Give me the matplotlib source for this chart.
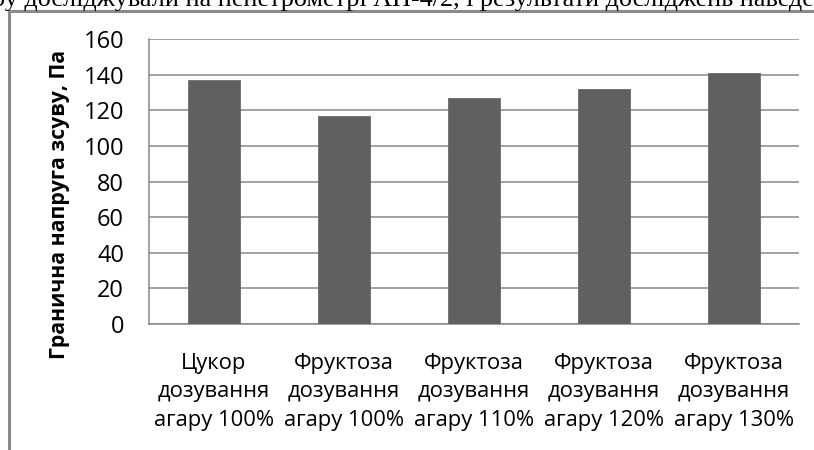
import matplotlib
matplotlib.use("Agg")
import matplotlib.pyplot as plt
from matplotlib.lines import Line2D

# Граничне напруження зсуву для зразків
categories = [
    "Цукор\nдозування\nагару 100%",
    "Фруктоза\nдозування\nагару 100%",
    "Фруктоза\nдозування\nагару 110%",
    "Фруктоза\nдозування\nагару 120%",
    "Фруктоза\nдозування\nагару 130%",
]
shear_stress = [137, 117, 127, 132, 141]
y_ticks = [0, 20, 40, 60, 80, 100, 120, 140, 160]
y_label = "Гранична напруга зсуву, Па"
header = "ру досліджували на пенетрометрі АП-4/2, і результати досліджень наведено"

W, H, DPI = 814, 450, 100
GRID = "#878787"
BAR = "#606060"
SANS = ["Open Sans", "DejaVu Sans"]

fig = plt.figure(figsize=(W / DPI, H / DPI), dpi=DPI)
fig.patch.set_facecolor("white")

# plot area in pixels: x 149..799, y 39..324
ax = fig.add_axes([149 / W, 1 - 324 / H, 650 / W, (324 - 39.3) / H])
x = list(range(len(categories)))
ax.bar(x, shear_stress, width=0.4, color=BAR, edgecolor="#6a6a6a",
       linewidth=0.6, zorder=3)

ax.set_xlim(-0.5, len(categories) - 0.5)
ax.set_ylim(y_ticks[0], y_ticks[-1])
ax.set_yticks(y_ticks)
ax.set_yticklabels([str(v) for v in y_ticks], family=SANS, fontsize=17)
ax.set_xticks(x)
ax.set_xticklabels(categories, family=SANS, fontsize=15.8, linespacing=1.45)
ax.tick_params(axis="y", length=0, pad=18, colors="black")
ax.tick_params(axis="x", length=0, pad=21, colors="black")

ax.yaxis.grid(True, color=GRID, linewidth=1.1, zorder=0)
ax.set_axisbelow(True)
for side in ("top", "right"):
    ax.spines[side].set_visible(False)
for side in ("left", "bottom"):
    ax.spines[side].set_color(GRID)
    ax.spines[side].set_linewidth(1.1)

fig.text(60 / W, 1 - 204 / H, y_label, rotation=90, ha="center", va="center",
         family=SANS, fontsize=15.3, fontweight="bold")

# chart frame (left and top edges) and the page text above it
fig.add_artist(Line2D([9 / W, 9 / W], [0, 1 - 11 / H], color="#8a8a8a",
                      linewidth=2.2, transform=fig.transFigure))
fig.add_artist(Line2D([9 / W, 1], [1 - 11 / H, 1 - 11 / H], color="#8a8a8a",
                      linewidth=2.2, transform=fig.transFigure))
fig.text(-8 / W, 1 - 6 / H, header, ha="left", va="baseline",
         family=["Liberation Serif", "DejaVu Serif"], fontsize=18.8)

fig.savefig("out.png", dpi=DPI)
